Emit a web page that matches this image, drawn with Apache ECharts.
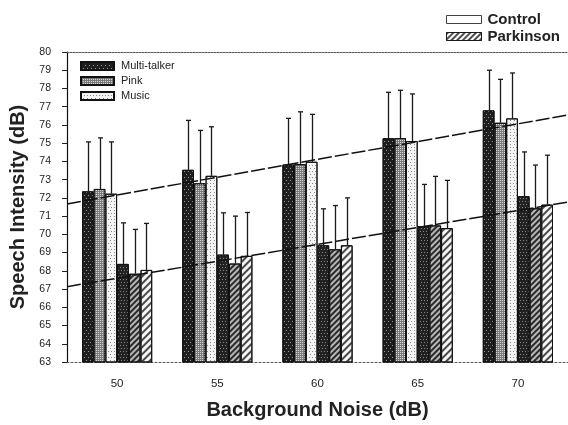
<!DOCTYPE html>
<html><head><meta charset="utf-8">
<script src="https://cdn.jsdelivr.net/npm/echarts@6/dist/echarts.min.js"></script>
<style>html,body{margin:0;padding:0;background:#fff}#c{width:568px;height:425px}</style>
</head><body><div id="c"></div>
<script>
// ---- data ----
const categories = ['50', '55', '60', '65', '70'];
const yMin = 63, yMax = 80, yStep = 1;

const ctrlMT    = [72.36, 73.54, 73.83, 75.27, 76.80];
const ctrlPink  = [72.49, 72.80, 73.85, 75.28, 76.12];
const ctrlMusic = [72.23, 73.21, 73.98, 75.12, 76.36];
const pdMT      = [68.38, 68.89, 69.40, 70.45, 72.09];
const pdPink    = [67.84, 68.40, 69.18, 70.49, 71.43];
const pdMusic   = [68.05, 68.82, 69.40, 70.34, 71.63];

const ctrlMTsd    = [2.71, 2.71, 2.53, 2.52, 2.20];
const ctrlPinksd  = [2.80, 2.90, 2.87, 2.62, 2.38];
const ctrlMusicsd = [2.84, 2.69, 2.60, 2.58, 2.49];
const pdMTsd      = [2.25, 2.29, 2.00, 2.29, 2.43];
const pdPinksd    = [2.43, 2.60, 2.40, 2.69, 2.37];
const pdMusicsd   = [2.55, 2.38, 2.60, 2.62, 2.71];

// regression lines (noise dB, intensity dB) at the plot edges
const controlFit   = [[47.5, 71.67], [72.5, 76.55]];
const parkinsonFit = [[47.5, 67.13], [72.5, 71.77]];

const noiseTypes = ['Multi-talker', 'Pink', 'Music'];
const groupNames = ['Control', 'Parkinson'];

// ---- styles ----
const FONT = 'Liberation Sans, Arial, sans-serif';
const BAR_W = 11.7;
const HATCH = -Math.PI / 4;
const decals = {
  cMT:   {symbol: 'rect', symbolSize: 1, color: 'rgba(255,255,255,0.55)', dashArrayX: [[1, 3], [0, 2, 1, 1]], dashArrayY: [1, 2]},
  cPink: {symbol: 'rect', symbolSize: 1, color: 'rgba(255,255,255,0.7)', dashArrayX: [1, 1], dashArrayY: [1, 1]},
  cMus:  {symbol: 'rect', symbolSize: 1, color: '#8a8a8a', dashArrayX: [[1, 2], [0, 1.5, 1, 0.5]], dashArrayY: [1, 1.5]},
  pMT:   {symbol: 'rect', symbolSize: 1, color: 'rgba(255,255,255,0.45)', dashArrayX: [[1, 2], [0, 1, 1, 1]], dashArrayY: [1, 2]},
  pPink: {symbol: 'rect', symbolSize: 1, color: '#2a2a2a', dashArrayX: [1, 0], dashArrayY: [2, 2], rotation: HATCH},
  pMus:  {symbol: 'rect', symbolSize: 1, color: '#4a4a4a', dashArrayX: [1, 0], dashArrayY: [1.5, 2.5], rotation: HATCH},
  legP:  {symbol: 'rect', symbolSize: 1, color: '#222', dashArrayX: [1, 0], dashArrayY: [1.5, 1.8], rotation: HATCH}
};

const barDefs = [
  {name: 'Multi-talker', data: ctrlMT,    sd: ctrlMTsd,    color: '#1e1e1e', decal: decals.cMT},
  {name: 'Pink',         data: ctrlPink,  sd: ctrlPinksd,  color: '#7a7a7a', decal: decals.cPink},
  {name: 'Music',        data: ctrlMusic, sd: ctrlMusicsd, color: '#f4f4f4', decal: decals.cMus},
  {name: 'Multi-talker', data: pdMT,      sd: pdMTsd,      color: '#222222', decal: decals.pMT},
  {name: 'Pink',         data: pdPink,    sd: pdPinksd,    color: '#b8b8b8', decal: decals.pPink},
  {name: 'Music',        data: pdMusic,   sd: pdMusicsd,   color: '#f6f6f6', decal: decals.pMus}
];

const barSeries = barDefs.map(d => ({
  name: d.name, type: 'bar', data: d.data, barWidth: BAR_W, barGap: '0%',
  itemStyle: {color: d.color, borderColor: '#111', borderWidth: 1, decal: d.decal},
  z: 2, silent: true
}));

const errData = [];
barDefs.forEach((d, gi) => d.data.forEach((m, ci) => errData.push([ci, m + d.sd[ci], m, gi])));

const errSeries = {
  type: 'custom', data: errData, z: 3, silent: true,
  encode: {x: 0, y: [1, 2]},
  renderItem(params, api) {
    const ci = api.value(0), top = api.value(1), mean = api.value(2), gi = api.value(3);
    const b = api.coord([ci, mean]);
    const t = api.coord([ci, top]);
    const x = Math.round(b[0] + (gi - 2.5) * BAR_W) + 0.5;
    const st = {stroke: '#1a1a1a', lineWidth: 1.3};
    return {type: 'group', children: [
      {type: 'line', shape: {x1: x, y1: b[1], x2: x, y2: t[1]}, style: st},
      {type: 'line', shape: {x1: x - 2.5, y1: t[1], x2: x + 2.5, y2: t[1]}, style: st}
    ]};
  }
};

const fitStyle = {color: '#111', width: 1.5, type: [14, 3]};
const fitSeries = [controlFit, parkinsonFit].map(f => ({
  type: 'line', xAxisIndex: 1, data: f, symbol: 'none', silent: true, z: 4,
  lineStyle: fitStyle
}));

const dummy = [
  {name: 'Control', type: 'scatter', data: [], itemStyle: {color: '#fff', borderColor: '#111', borderWidth: 1}},
  {name: 'Parkinson', type: 'scatter', data: [], itemStyle: {color: '#fff', borderColor: '#111', borderWidth: 1, decal: decals.legP}}
];

const chart = echarts.init(document.getElementById('c'), null, {renderer: 'canvas'});
chart.setOption({
  animation: false,
  backgroundColor: '#fff',
  textStyle: {fontFamily: FONT},
  grid: {left: 67, top: 52, bottom: 61, right: -1},
  legend: [
    {
      data: noiseTypes.map(n => ({name: n})),
      orient: 'vertical', left: 80, top: 60, padding: 0, icon: 'rect', itemWidth: 33, itemHeight: 8, itemGap: 3,
      textStyle: {fontSize: 11, lineHeight: 12, color: '#222', fontFamily: FONT, padding: [0, 0, 0, 2]},
      selectedMode: false
    },
    {
      data: [
        {name: 'Control', itemStyle: {color: '#fff', borderColor: '#111', borderWidth: 1}},
        {name: 'Parkinson', itemStyle: {color: '#fff', borderColor: '#111', borderWidth: 1, decal: decals.legP}}
      ],
      orient: 'vertical', left: 446, top: 12, padding: 0, icon: 'rect', itemWidth: 35, itemHeight: 8, itemGap: 2,
      textStyle: {fontSize: 15, lineHeight: 13, fontWeight: 'bold', color: '#222', fontFamily: FONT, padding: [0, 0, 0, 1]},
      selectedMode: false
    }
  ],
  xAxis: [
    {
      type: 'category', data: categories, position: 'bottom',
      axisLine: {lineStyle: {color: '#555', width: 1, type: [2, 2]}},
      axisTick: {show: false},
      axisLabel: {fontSize: 11.5, color: '#222', margin: 16, fontFamily: FONT},
      name: 'Background Noise (dB)', nameLocation: 'middle', nameGap: 38,
      nameTextStyle: {fontSize: 20, fontWeight: 'bold', color: '#222', fontFamily: FONT}
    },
    {
      type: 'value', min: 47.5, max: 72.5, position: 'top',
      axisLine: {show: true, lineStyle: {color: '#555', width: 1, type: [2, 1]}},
      axisTick: {show: false}, axisLabel: {show: false}, splitLine: {show: false}
    }
  ],
  yAxis: {
    type: 'value', min: yMin, max: yMax, interval: yStep,
    axisLine: {show: true, lineStyle: {color: '#111', width: 1.2}},
    axisTick: {show: true, length: 5, lineStyle: {color: '#222'}},
    axisLabel: {fontSize: 10.5, color: '#222', margin: 16, fontFamily: FONT},
    splitLine: {show: false},
    name: 'Speech Intensity (dB)', nameLocation: 'middle', nameGap: 31,
    nameTextStyle: {fontSize: 20, fontWeight: 'bold', color: '#222', fontFamily: FONT}
  },
  series: [...barSeries, errSeries, ...fitSeries, ...dummy]
});
</script>
</body></html>
